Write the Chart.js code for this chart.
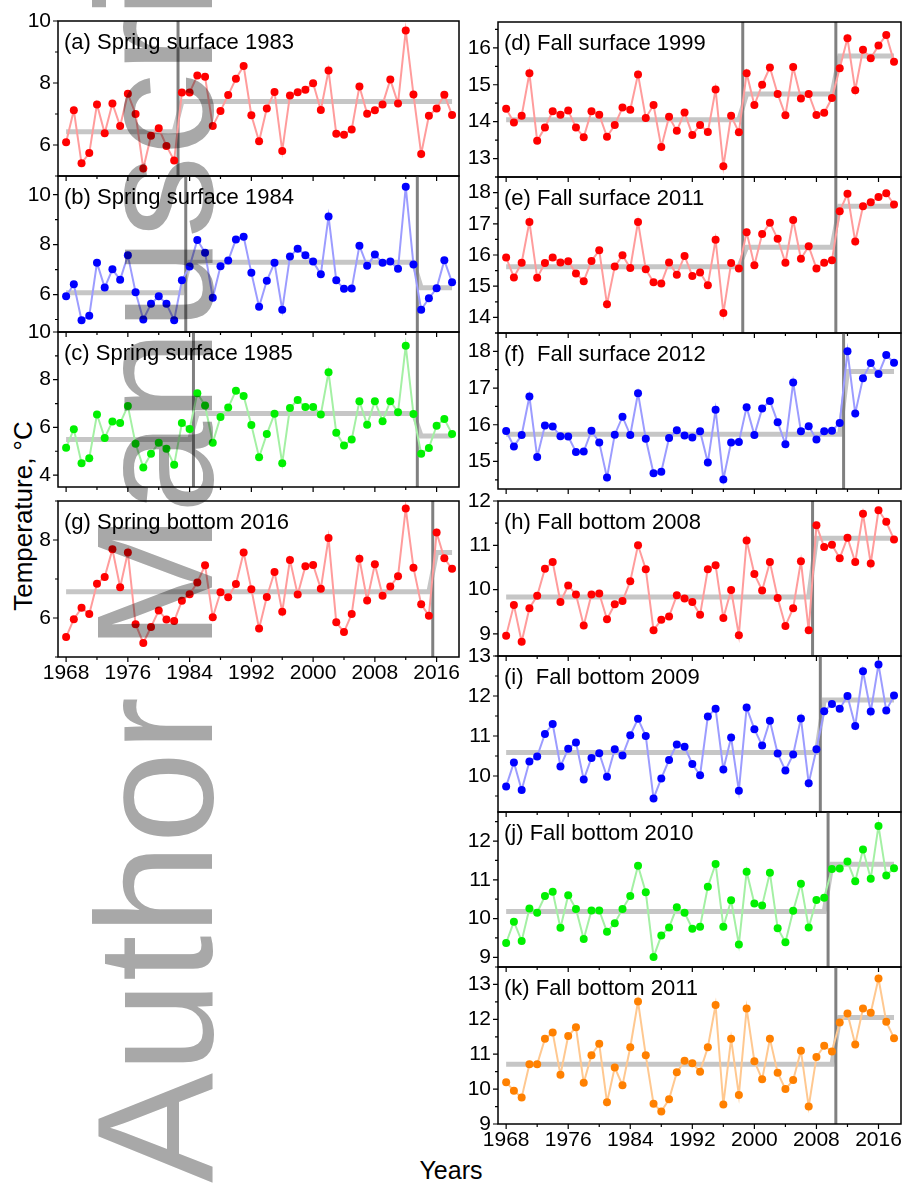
<!DOCTYPE html>
<html>
<head>
<meta charset="utf-8">
<script src="https://cdn.jsdelivr.net/npm/chart.js@4.4.0/dist/chart.umd.min.js"></script>
<style>
body{margin:0;background:#fff;width:905px;height:1185px;position:relative;overflow:hidden;font-family:"Liberation Sans",Arial,sans-serif}
canvas{position:absolute}
.tag{position:absolute;font-size:22px;line-height:24px;white-space:pre;color:#000}
.axtitle{position:absolute;white-space:nowrap;color:#000;transform:translate(-50%,-50%)}
#wm{position:absolute;left:73px;top:1183px;font-size:165px;line-height:165px;color:#a8a8a8;white-space:nowrap;transform-origin:0 0;transform:rotate(-90deg);mix-blend-mode:multiply;pointer-events:none}
</style>
</head>
<body>
<div class="axtitle" style="left:23px;top:516px;font-size:26px;transform:translate(-50%,-50%) rotate(-90deg)">Temperature, °C</div>
<div class="axtitle" style="left:451px;top:1170px;font-size:25px">Years</div>
<script>
const years = [1968,1969,1970,1971,1972,1973,1974,1975,1976,1977,
  1978,1979,1980,1981,1982,1983,1984,1985,1986,1987,
  1988,1989,1990,1991,1992,1993,1994,1995,1996,1997,
  1998,1999,2000,2001,2002,2003,2004,2005,2006,2007,
  2008,2009,2010,2011,2012,2013,2014,2015,2016,2017,2018]

// spring series
const springSurf1983 = [6.09,7.12,5.41,5.74,7.31,6.38,7.34,6.61,7.65,7.00,
  5.24,6.30,6.54,5.97,5.50,7.69,7.69,8.24,8.20,6.61,
  7.10,7.61,8.14,8.55,6.96,6.12,7.18,7.71,5.81,7.60,
  7.70,7.78,7.99,7.13,8.40,6.36,6.33,6.50,7.89,7.01,
  7.12,7.31,8.11,7.34,9.69,7.63,5.71,6.94,7.18,7.62,6.97]
const springSurf1984 = [5.93,6.41,4.97,5.15,7.27,6.28,7.01,6.59,7.57,6.09,
  5.00,5.63,5.93,5.63,4.97,6.57,7.12,8.19,7.68,5.87,
  7.13,7.36,8.21,8.32,6.87,5.51,6.55,7.27,5.39,7.52,
  7.84,7.57,7.32,6.81,9.13,6.57,6.23,6.24,7.96,7.15,
  7.60,7.27,7.32,7.03,10.32,7.20,5.39,5.85,6.25,7.37,6.49]
const springSurf1985 = [5.15,5.92,4.50,4.71,6.54,5.56,6.25,6.18,6.90,5.31,
  4.32,4.89,5.36,5.10,4.43,6.18,5.93,7.43,6.92,5.36,
  6.44,6.83,7.54,7.32,6.10,4.75,5.72,6.57,4.50,6.81,
  7.15,6.85,6.86,6.54,8.31,5.78,5.24,5.49,7.10,6.11,
  7.10,6.26,7.10,6.63,9.42,6.56,4.89,5.14,6.07,6.35,5.72]
const springBot2016 = [5.51,5.97,6.26,6.10,6.88,7.05,7.76,6.79,7.68,5.84,
  5.36,5.77,6.19,5.96,5.92,6.44,6.61,6.91,7.35,6.02,
  6.66,6.53,6.87,7.68,6.74,5.73,6.54,7.18,6.16,7.49,
  6.60,7.33,7.36,6.75,8.05,5.89,5.64,6.10,7.52,6.45,
  7.38,6.57,6.81,7.07,8.81,7.29,6.35,6.06,8.19,7.53,7.26]

// fall series
const fallSurf1999 = [14.35,13.98,14.16,15.31,13.48,13.84,14.28,14.19,14.30,13.84,
  13.58,14.28,14.19,13.59,13.91,14.38,14.32,15.28,14.10,14.45,
  13.31,14.13,13.75,14.25,13.64,13.91,13.72,14.87,12.79,14.16,
  13.71,15.31,14.45,15.00,15.47,14.75,14.17,15.48,14.63,14.75,
  14.18,14.24,14.64,15.45,16.26,14.85,15.95,15.72,16.06,16.35,15.62]
const fallSurf2011 = [15.92,15.28,15.75,17.06,15.27,15.74,15.92,15.76,15.80,15.41,
  15.16,15.81,16.15,14.42,15.63,15.99,15.58,17.06,15.54,15.13,
  15.09,15.76,15.37,15.97,15.33,15.44,15.03,16.49,14.14,15.74,
  15.57,16.73,15.67,16.67,17.03,16.52,15.75,17.12,15.88,16.28,
  15.57,15.75,15.83,17.40,17.96,16.43,17.56,17.69,17.86,17.98,17.62]
const fallSurf2012 = [15.83,15.41,15.72,16.77,15.12,15.98,15.95,15.69,15.68,15.26,
  15.27,15.84,15.52,14.56,15.73,16.22,15.72,16.86,15.62,14.68,
  14.72,15.64,15.85,15.71,15.65,15.82,14.97,16.41,14.51,15.52,
  15.53,16.48,15.72,16.44,16.65,16.07,15.47,17.15,15.82,15.96,
  15.60,15.82,15.84,16.05,18.00,16.31,17.27,17.68,17.38,17.90,17.69]
const fallBot2008 = [8.96,9.65,8.82,9.58,9.86,10.47,10.62,9.72,10.09,9.89,
  9.19,9.89,9.91,9.33,9.67,9.74,10.19,11.00,10.46,9.08,
  9.32,9.39,9.87,9.80,9.72,9.43,10.46,10.55,9.36,9.99,
  8.97,11.11,10.35,9.98,10.62,9.81,9.18,9.58,10.64,9.08,
  11.45,10.96,11.01,10.71,11.17,10.62,11.71,10.59,11.79,11.53,11.13]
const fallBot2009 = [9.74,10.34,9.65,10.36,10.49,11.05,11.30,10.24,10.68,10.84,
  9.91,10.45,10.57,9.98,10.67,10.51,11.02,11.43,11.00,9.44,
  9.94,10.40,10.79,10.73,10.30,10.02,11.49,11.68,10.16,10.96,
  9.63,11.71,11.17,10.76,11.38,10.56,10.14,10.54,11.44,9.82,
  10.67,11.62,11.80,11.68,12.00,11.25,12.62,11.61,12.79,11.64,12.01]
const fallBot2010 = [9.37,9.92,9.42,10.26,10.15,10.58,10.69,9.76,10.60,10.25,
  9.47,10.21,10.21,9.66,9.88,10.25,10.58,11.36,10.68,9.01,
  9.56,9.77,10.29,10.15,9.74,9.79,10.82,11.41,9.79,10.47,
  9.33,11.21,10.39,10.34,11.18,9.75,9.39,10.20,10.90,9.77,
  10.48,10.54,11.28,11.29,11.47,10.96,11.78,11.03,12.39,11.11,11.30]
const fallBot2011 = [10.20,9.95,9.76,10.71,10.71,11.44,11.62,10.41,11.52,11.77,
  10.18,10.97,11.30,9.62,10.62,10.11,11.20,12.51,10.97,9.58,
  9.36,9.71,10.48,10.81,10.74,10.50,11.20,12.41,9.56,11.44,
  9.83,12.31,10.80,10.28,11.44,10.47,10.00,10.26,11.10,9.50,
  10.92,11.24,11.08,11.91,12.17,11.28,12.31,12.19,13.17,11.93,11.46]

// regime shifts: first year of each new regime, and the mean level of each regime
const shiftsA = [1983],       levelsA = [6.43, 7.40]
const shiftsB = [1984, 2014], levelsB = [6.07, 7.29, 6.27]
const shiftsC = [1985, 2014], levelsC = [5.49, 6.58, 5.64]
const shiftsG = [2016],       levelsG = [6.67, 7.68]
const shiftsD = [1999, 2011], levelsD = [14.05, 14.75, 15.78]
const shiftsE = [1999, 2011], levelsE = [15.62, 16.25, 17.56]
const shiftsF = [2012],       levelsF = [15.74, 17.45]
const shiftsH = [2008],       levelsH = [9.83, 11.16]
const shiftsI = [2009],       levelsI = [10.59, 11.90]
const shiftsJ = [2010],       levelsJ = [10.18, 11.40]
const shiftsK = [2011],       levelsK = [10.71, 12.05]

// tick labels
const xTickYears = [1968, 1976, 1984, 1992, 2000, 2008, 2016]
const yTicksA = [6, 8, 10]
const yTicksB = [6, 8, 10]
const yTicksC = [4, 6, 8, 10]
const yTicksG = [6, 8]
const yTicksD = [13, 14, 15, 16]
const yTicksE = [14, 15, 16, 17, 18]
const yTicksF = [15, 16, 17, 18]
const yTicksH = [9, 10, 11, 12]
const yTicksI = [10, 11, 12, 13]
const yTicksJ = [9, 10, 11, 12]
const yTicksK = [9, 10, 11, 12, 13]

const RED = ['#ff0000', '#ff9c9c']
const BLUE = ['#0000ff', '#9c9cff']
const GREEN = ['#00f000', '#a4f0a4']
const ORANGE = ['#ff8000', '#ffc890']

const L = {x0: 58, x1: 459}, R = {x0: 498, x1: 901}
const panels = [
  {tag:'(a) Spring surface 1983', vals:springSurf1983, shifts:shiftsA, levels:levelsA, yTicks:yTicksA, min:5, max:10, minor:1, col:RED, ...L, y0:21, y1:176},
  {tag:'(b) Spring surface 1984', vals:springSurf1984, shifts:shiftsB, levels:levelsB, yTicks:yTicksB, min:4.5, max:10.75, minor:1, col:BLUE, ...L, y0:176, y1:332},
  {tag:'(c) Spring surface 1985', vals:springSurf1985, shifts:shiftsC, levels:levelsC, yTicks:yTicksC, min:3.5, max:10, minor:1, col:GREEN, ...L, y0:332, y1:487},
  {tag:'(g) Spring bottom 2016', vals:springBot2016, shifts:shiftsG, levels:levelsG, yTicks:yTicksG, min:5, max:9, minor:1, col:RED, ...L, y0:501, y1:657, showX:true},
  {tag:'(d) Fall surface 1999', vals:fallSurf1999, shifts:shiftsD, levels:levelsD, yTicks:yTicksD, min:12.5, max:16.7, minor:0.5, col:RED, ...R, y0:22, y1:177},
  {tag:'(e) Fall surface 2011', vals:fallSurf2011, shifts:shiftsE, levels:levelsE, yTicks:yTicksE, min:13.5, max:18.5, minor:0.5, col:RED, ...R, y0:177, y1:333},
  {tag:'(f)  Fall surface 2012', vals:fallSurf2012, shifts:shiftsF, levels:levelsF, yTicks:yTicksF, min:14.25, max:18.5, minor:0.5, col:BLUE, ...R, y0:333, y1:489},
  {tag:'(h) Fall bottom 2008', vals:fallBot2008, shifts:shiftsH, levels:levelsH, yTicks:yTicksH, min:8.5, max:12, minor:0.5, col:RED, ...R, y0:501, y1:656},
  {tag:'(i)  Fall bottom 2009', vals:fallBot2009, shifts:shiftsI, levels:levelsI, yTicks:yTicksI, min:9.1, max:13, minor:0.5, col:BLUE, ...R, y0:656, y1:812},
  {tag:'(j) Fall bottom 2010', vals:fallBot2010, shifts:shiftsJ, levels:levelsJ, yTicks:yTicksJ, min:8.75, max:12.75, minor:0.5, col:GREEN, ...R, y0:812, y1:967},
  {tag:'(k) Fall bottom 2011', vals:fallBot2011, shifts:shiftsK, levels:levelsK, yTicks:yTicksK, min:9, max:13.5, minor:0.5, col:ORANGE, ...R, y0:967, y1:1124, showX:true}
]

const PAD_TOP = 14, PAD_RIGHT = 6, Y_W = 58, X_H = 32
const FONT = {family:'"Liberation Sans", Arial, sans-serif', size:21}
Chart.defaults.font.family = FONT.family

function regimeMeans(shifts, levels){
  return years.map((yr)=>{
    let k = 0
    shifts.forEach((s)=>{ if(yr >= s){k++} })
    return levels[k]
  })
}

const frameTicks = {
  id:'frameTicks',
  afterDraw(chart, args, opts){
    const ctx = chart.ctx
    const a = chart.chartArea
    const xs = chart.scales.x, ys = chart.scales.y
    ctx.save()
    ctx.strokeStyle = '#000'
    ctx.lineWidth = 1.2
    ctx.beginPath()
    ys.ticks.forEach((t)=>{
      const p = ys.getPixelForValue(t.value)
      ctx.moveTo(a.left-5, p); ctx.lineTo(a.left, p)
    })
    for(let v = Math.ceil(ys.min/opts.minor)*opts.minor; v <= ys.max; v += opts.minor){
      if(ys.ticks.some((t)=>Math.abs(t.value-v) < 1e-6)){continue}
      const p = ys.getPixelForValue(v)
      ctx.moveTo(a.left-3, p); ctx.lineTo(a.left, p)
    }
    xTickYears.forEach((yr)=>{
      let p = xs.getPixelForValue(yr)
      ctx.moveTo(p, a.bottom); ctx.lineTo(p, a.bottom+5)
      p = xs.getPixelForValue(yr+4)
      if(p < a.right){ ctx.moveTo(p, a.bottom); ctx.lineTo(p, a.bottom+3) }
    })
    ctx.stroke()
    ctx.lineWidth = 1.5
    ctx.strokeRect(a.left, a.top, a.right-a.left, a.bottom-a.top)
    ctx.restore()
  }
}

function renderPanel(p){
  const canvas = document.createElement('canvas')
  const w = p.x1 - p.x0 + Y_W + PAD_RIGHT
  const h = p.y1 - p.y0 + PAD_TOP + X_H
  canvas.width = w
  canvas.height = h
  canvas.style.left = (p.x0 - Y_W) + 'px'
  canvas.style.top = (p.y0 - PAD_TOP) + 'px'
  canvas.style.width = w + 'px'
  canvas.style.height = h + 'px'
  document.body.appendChild(canvas)

  const means = regimeMeans(p.shifts, p.levels)
  const datasets = [{
    data: years.map((yr,i)=>({x:yr, y:p.vals[i]})),
    borderColor: p.col[1], borderWidth: 2,
    pointRadius: 4, pointBackgroundColor: p.col[0], pointBorderWidth: 0,
    tension: 0
  }]
  p.shifts.forEach((s)=>{
    datasets.push({
      data: [{x:s-0.5, y:p.min}, {x:s-0.5, y:p.max}],
      borderColor: '#808080', borderWidth: 3, pointRadius: 0
    })
  })
  datasets.push({
    data: years.map((yr,i)=>({x:yr, y:means[i]})),
    borderColor: '#c6c6c6', borderWidth: 5, pointRadius: 0
  })

  new Chart(canvas, {
    type: 'line',
    data: {datasets: datasets},
    options: {
      responsive: false, animation: false, devicePixelRatio: 1,
      layout: {padding: {top: PAD_TOP, right: PAD_RIGHT, left: 0, bottom: 0}},
      plugins: {legend: {display: false}, tooltip: {enabled: false}, frameTicks: {minor: p.minor}},
      scales: {
        x: {
          type: 'linear', min: 1966.95, max: 2018.9,
          grid: {display: false, drawTicks: false}, border: {display: false},
          afterBuildTicks: (s)=>{ s.ticks = xTickYears.map((v)=>({value: v})) },
          afterFit: (s)=>{ s.height = X_H; s.paddingLeft = 0; s.paddingRight = 0 },
          ticks: {display: !!p.showX, font: FONT, color: '#000', padding: 4, maxRotation: 0, autoSkip: false, callback: (v)=>String(v)}
        },
        y: {
          min: p.min, max: p.max,
          grid: {display: false, drawTicks: false}, border: {display: false},
          afterBuildTicks: (s)=>{ s.ticks = p.yTicks.map((v)=>({value: v})) },
          afterFit: (s)=>{ s.width = Y_W; s.paddingTop = 0; s.paddingBottom = 0 },
          ticks: {font: FONT, color: '#000', padding: 7, callback: (v)=>String(v)}
        }
      }
    },
    plugins: [frameTicks]
  })

  const tag = document.createElement('div')
  tag.className = 'tag'
  tag.textContent = p.tag
  tag.style.left = (p.x0 + 6) + 'px'
  tag.style.top = (p.y0 + 8.5) + 'px'
  document.body.appendChild(tag)
}

panels.forEach(renderPanel)

const wm = document.createElement('div')
wm.id = 'wm'
wm.textContent = 'Author Manuscript'
document.body.appendChild(wm)
</script>
</body>
</html>
